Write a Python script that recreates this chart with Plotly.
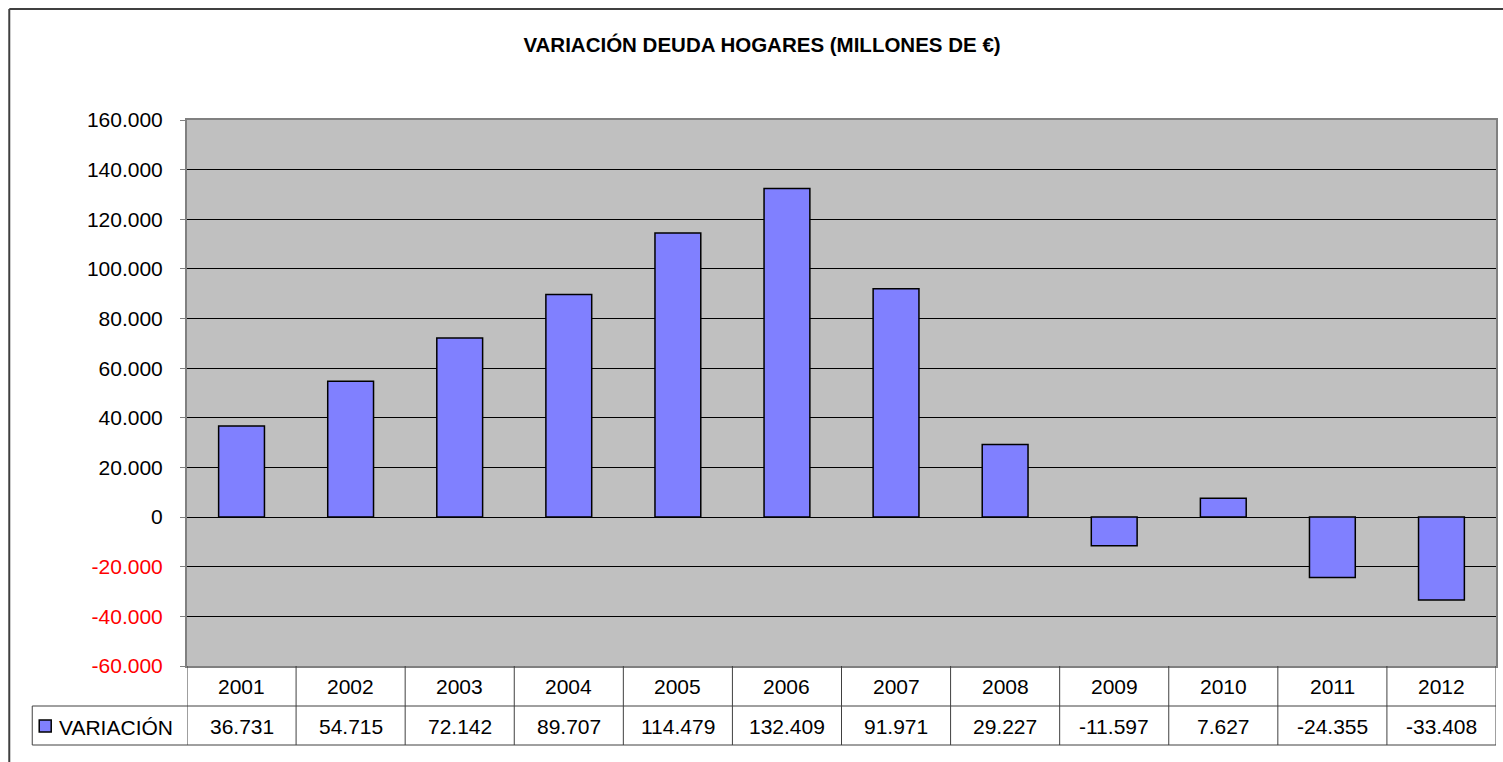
import plotly.graph_objects as go

years = ["2001", "2002", "2003", "2004", "2005", "2006",
         "2007", "2008", "2009", "2010", "2011", "2012"]
variacion = [36731, 54715, 72142, 89707, 114479, 132409,
             91971, 29227, -11597, 7627, -24355, -33408]
y_ticks = [-60000, -40000, -20000, 0, 20000, 40000, 60000,
           80000, 100000, 120000, 140000, 160000]
serie = "VARIACIÓN"
titulo = "<b>VARIACIÓN DEUDA HOGARES (MILLONES DE €)</b>"


def miles(v):
    return f"{v:,}".replace(",", ".")


def tick_label(v):
    txt = miles(v)
    if v < 0:
        return f"<span style='color:#FF0000'>{txt}</span>"
    return txt


# pixel layout of the plot area
W, H = 1503, 762
L, R, T, B = 187, 1498, 120, 666
pw, ph = R - L, B - T


def px_x(p):
    return (p - L) / pw


def px_y(p):
    return (B - p) / ph


fig = go.Figure()
fig.add_trace(go.Bar(
    x=years, y=variacion, name=serie,
    marker=dict(color="#8080FF", line=dict(color="black", width=1.5)),
))

font = "Liberation Sans, Arial, sans-serif"
fsize = 21
shapes = []
annotations = []

# outer chart frame (runs off the page on the right and bottom)
shapes.append(dict(type="line", xref="paper", yref="paper",
                   x0=px_x(9), x1=px_x(1520), y0=px_y(9), y1=px_y(9),
                   line=dict(color="#404040", width=2)))
shapes.append(dict(type="line", xref="paper", yref="paper",
                   x0=px_x(9), x1=px_x(9), y0=px_y(9), y1=px_y(780),
                   line=dict(color="#404040", width=2)))

# data table below the plot
y_row1 = px_y(706)
y_row2 = px_y(745)
tcol = "#404040"
shapes.append(dict(type="line", xref="paper", yref="paper",
                   x0=0, x1=1, y0=y_row1, y1=y_row1, line=dict(color=tcol, width=1)))
shapes.append(dict(type="line", xref="paper", yref="paper",
                   x0=px_x(32), x1=1, y0=y_row2, y1=y_row2, line=dict(color=tcol, width=1)))
shapes.append(dict(type="line", xref="paper", yref="paper",
                   x0=px_x(32), x1=0, y0=y_row1, y1=y_row1, line=dict(color=tcol, width=1)))
shapes.append(dict(type="line", xref="paper", yref="paper",
                   x0=px_x(32), x1=px_x(32), y0=y_row1, y1=y_row2, line=dict(color=tcol, width=1)))
for i in range(len(years) + 1):
    shapes.append(dict(type="line", xref="x", yref="paper",
                       x0=i - 0.5, x1=i - 0.5, y0=0, y1=y_row2,
                       line=dict(color=tcol, width=1)))

for i, (yr, v) in enumerate(zip(years, variacion)):
    annotations.append(dict(x=i, y=px_y(686), xref="x", yref="paper",
                            text=yr, showarrow=False, yanchor="middle",
                            font=dict(size=fsize, color="black", family=font)))
    annotations.append(dict(x=i, y=px_y(726), xref="x", yref="paper",
                            text=miles(v), showarrow=False, yanchor="middle",
                            font=dict(size=fsize, color="black", family=font)))

# legend key in table
shapes.append(dict(type="rect", xref="paper", yref="paper",
                   x0=px_x(39), x1=px_x(51), y0=px_y(720), y1=px_y(732),
                   fillcolor="#8080FF", line=dict(color="black", width=1.5)))
annotations.append(dict(x=px_x(57), y=px_y(727), xref="paper", yref="paper",
                        text=serie, showarrow=False, xanchor="left", yanchor="middle",
                        font=dict(size=fsize, color="black", family=font)))

fig.update_layout(
    width=W, height=H,
    margin=dict(l=L, r=W - R, t=T, b=H - B),
    paper_bgcolor="white",
    plot_bgcolor="#C0C0C0",
    bargap=0.58,
    showlegend=False,
    title=dict(text=titulo, x=762 / W, xanchor="center", y=1 - 45 / H, yanchor="middle",
               font=dict(size=20.5, color="black", family=font)),
    font=dict(family=font, size=fsize, color="black"),
    shapes=shapes,
    annotations=annotations,
)
fig.update_xaxes(type="category", range=[-0.5, len(years) - 0.5],
                 showticklabels=False, showgrid=False, ticks="",
                 showline=True, linecolor="#808080", linewidth=2, mirror=True)
fig.update_yaxes(range=[-60000, 160000], tickvals=y_ticks,
                 ticktext=[tick_label(v) for v in y_ticks],
                 showgrid=True, gridcolor="black", gridwidth=1,
                 zeroline=True, zerolinecolor="black", zerolinewidth=1,
                 ticks="outside", ticklen=5, tickcolor="#808080",
                 ticklabelstandoff=13,
                 showline=True, linecolor="#808080", linewidth=2, mirror=True,
                 tickfont=dict(size=fsize, family=font))

fig.write_html("out.html", config={"displayModeBar": False},
               post_script="document.body.style.margin='0';")
